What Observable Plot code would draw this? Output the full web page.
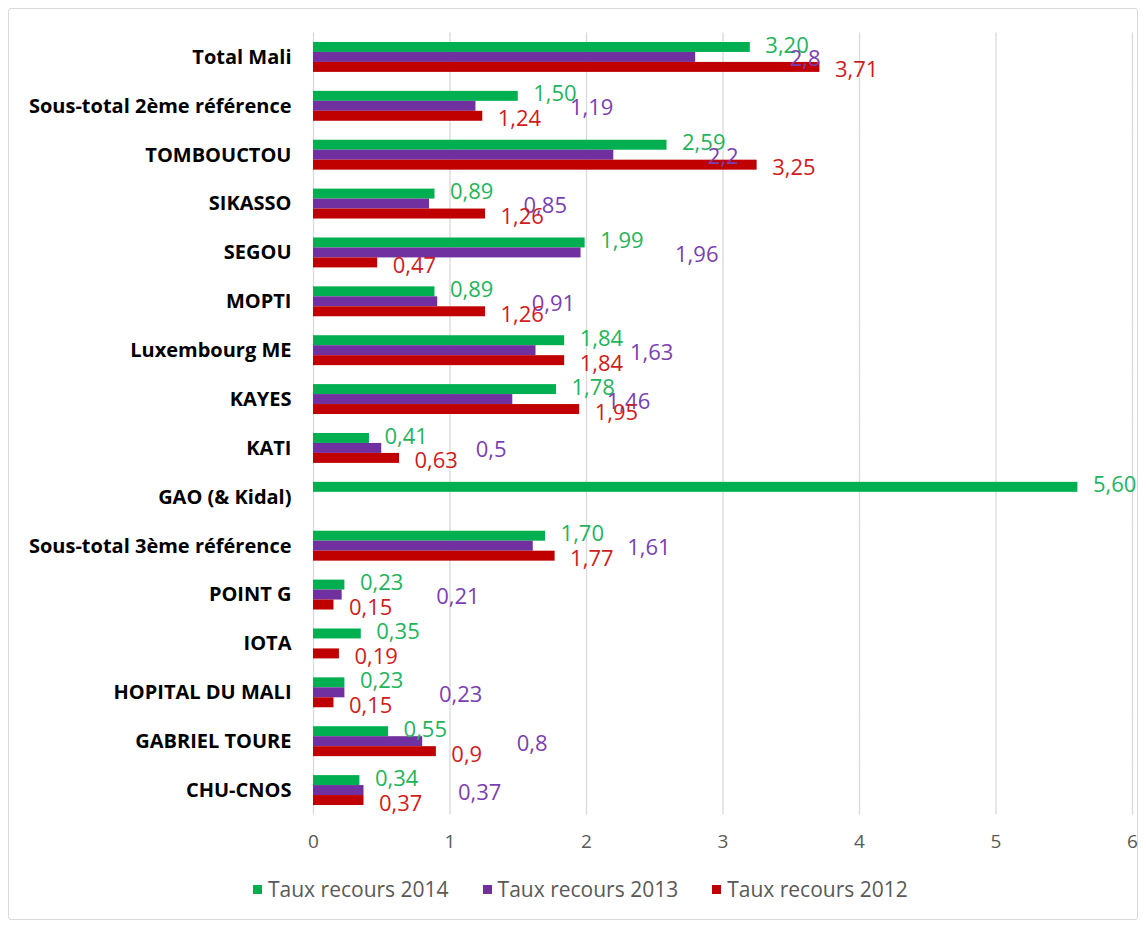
<!DOCTYPE html>
<html>
<head>
<meta charset="utf-8">
<script src="https://cdn.jsdelivr.net/npm/d3@7"></script>
<script src="https://cdn.jsdelivr.net/npm/@observablehq/plot@0.6"></script>
<style>
  html, body { margin: 0; padding: 0; background: #fff; }
  #frame { position: absolute; left: 8px; top: 8px; width: 1128px; height: 910px; border: 1px solid #d9d9d9; border-radius: 3px; }
  #chart { position: absolute; left: 0; top: 0; }
  #chart svg { overflow: visible; }
  g[aria-label^="fy-axis"] text { font-weight: bold; fill: #000; font-size: 20px; font-family: "Open Sans", sans-serif; }
  g[aria-label^="x-axis"] text { fill: #595959; font-size: 19px; font-family: "Open Sans", sans-serif; }
  #legend { position: absolute; left: 244px; top: 866px; display: flex; gap: 34px; font-family: "Open Sans", sans-serif; font-size: 21px; color: #595959; }
  #legend .item { display: flex; align-items: center; gap: 6px; }
  #legend .sw { width: 9px; height: 9px; display: inline-block; }
</style>
</head>
<body>
<div id="frame">
  <div id="chart"></div>
  <div id="legend"></div>
</div>
<script>
const categories = [
  "Total Mali", "Sous-total 2ème référence", "TOMBOUCTOU", "SIKASSO", "SEGOU", "MOPTI",
  "Luxembourg ME", "KAYES", "KATI", "GAO (& Kidal)", "Sous-total 3ème référence",
  "POINT G", "IOTA", "HOPITAL DU MALI", "GABRIEL TOURE", "CHU-CNOS"
];
const seriesNames = ["Taux recours 2014", "Taux recours 2013", "Taux recours 2012"];
const values2014 = [3.20, 1.50, 2.59, 0.89, 1.99, 0.89, 1.84, 1.78, 0.41, 5.60, 1.70, 0.23, 0.35, 0.23, 0.55, 0.34];
const values2013 = [2.8, 1.19, 2.2, 0.85, 1.96, 0.91, 1.63, 1.46, 0.5, null, 1.61, 0.21, null, 0.23, 0.8, 0.37];
const values2012 = [3.71, 1.24, 3.25, 1.26, 0.47, 1.26, 1.84, 1.95, 0.63, null, 1.77, 0.15, 0.19, 0.15, 0.9, 0.37];
const barColors = ["#00b050", "#7030a0", "#c00000"];
const labelColors = ["#1fb45c", "#7a3fb0", "#d01c1c"];
const xTicks = [0, 1, 2, 3, 4, 5, 6];

const fmt = [
  v => v.toFixed(2).replace(".", ","),
  v => String(v).replace(".", ","),
  v => String(v).replace(".", ",")
];
const allValues = [values2014, values2013, values2012];
const table = [];
allValues.forEach((vals, s) => {
  vals.forEach((v, i) => {
    if (v != null) table.push({cat: categories[i], series: seriesNames[s], value: v, label: fmt[s](v), s});
  });
});

const labelDx = [15, 94, 15];
const labelDy = [-2, 2, 3];
const labelMarks = seriesNames.map((name, s) =>
  Plot.text(table.filter(d => d.s === s), {
    x: "value", y: "series", fy: "cat", text: "label",
    dx: labelDx[s], dy: labelDy[s],
    textAnchor: "start", fill: labelColors[s], fontSize: 22,
    fontFamily: "Open Sans, sans-serif"
  })
);

const chart = Plot.plot({
  width: 1128,
  height: 856,
  marginLeft: 304,
  marginRight: 5,
  marginTop: 23.5,
  marginBottom: 50.5,
  style: { fontFamily: "Open Sans, sans-serif", background: "transparent", overflow: "visible" },
  x: { domain: [0, 6], ticks: xTicks, label: null, tickSize: 0, tickPadding: 19, tickFormat: d => d },
  y: { domain: seriesNames, axis: null, paddingInner: 0, paddingOuter: 0.95, round: false },
  fy: { domain: categories, padding: 0, label: null, tickSize: 0, tickPadding: 22, axis: "left", round: false },
  color: { domain: seriesNames, range: barColors },
  marks: [
    Plot.ruleX(xTicks, { stroke: "#d9d9d9", strokeWidth: 1.3 }),
    Plot.barX(table, { x: "value", y: "series", fy: "cat", fill: "series" }),
    ...labelMarks
  ]
});
document.getElementById("chart").appendChild(chart);

const legend = document.getElementById("legend");
seriesNames.forEach((name, s) => {
  const item = document.createElement("div");
  item.className = "item";
  const sw = document.createElement("span");
  sw.className = "sw";
  sw.style.background = barColors[s];
  const t = document.createElement("span");
  t.textContent = name;
  item.appendChild(sw);
  item.appendChild(t);
  legend.appendChild(item);
});
</script>
</body>
</html>
